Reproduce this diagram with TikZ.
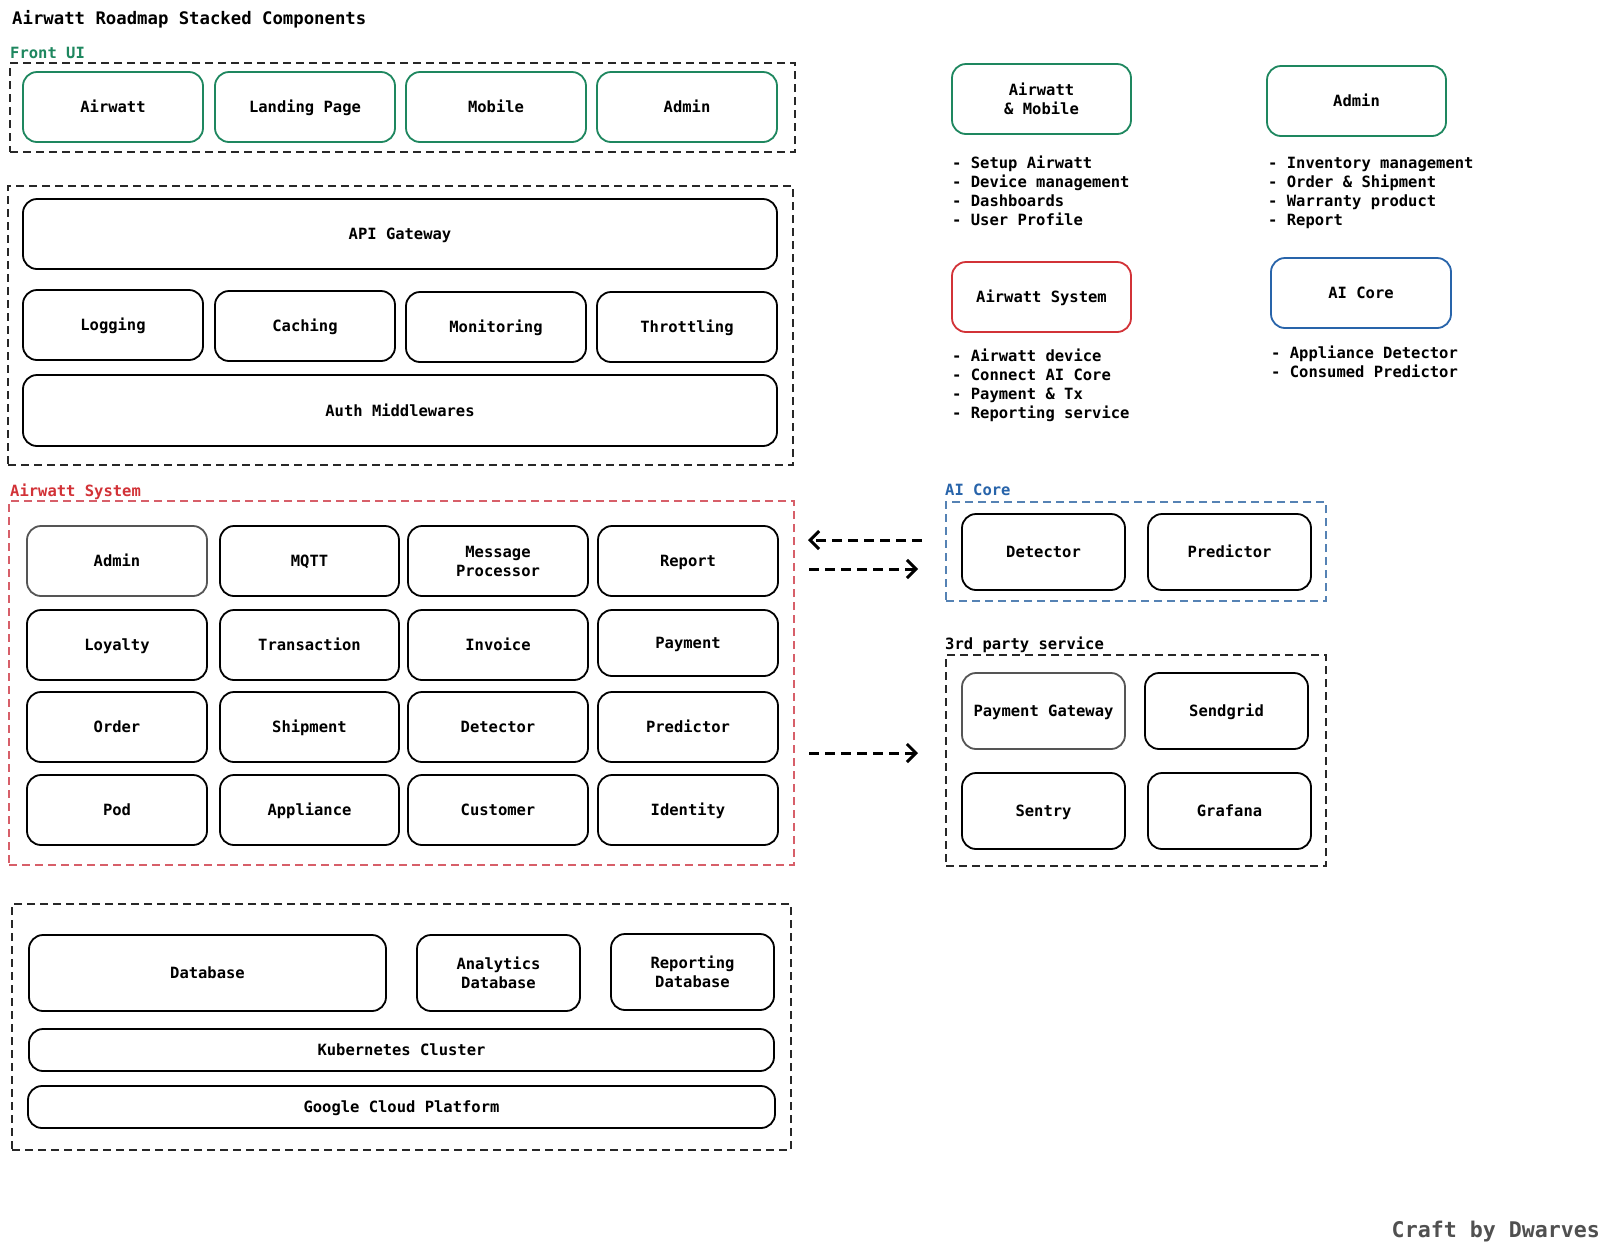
\documentclass[tikz,border=0pt]{standalone}
\usepackage{fontspec}
\setmainfont{DejaVu Sans Mono}[UprightFont=* Bold]
\usetikzlibrary{arrows.meta}
\definecolor{greenS}{RGB}{30,135,95}
\definecolor{redS}{RGB}{210,50,55}
\definecolor{redD}{RGB}{215,95,105}
\definecolor{blueS}{RGB}{40,100,170}
\definecolor{blueD}{RGB}{85,130,180}
\definecolor{greyS}{RGB}{85,85,85}
\definecolor{frameK}{RGB}{40,40,40}
\definecolor{craftC}{RGB}{80,80,80}
\newcommand\rbox[7][]{%
  \pgfmathsetmacro\cx{(#3+#5)/2}\pgfmathsetmacro\cy{(#4+#6)/2}%
  \pgfmathsetmacro\ww{#5-#3}\pgfmathsetmacro\hh{#6-#4}%
  \node[rbx,#1,minimum width=\ww pt,minimum height=\hh pt] (#2) at (\cx,\cy) {#7};}
\tikzset{
  txt/.style={font=\fontsize{15.5}{19}\selectfont, inner sep=0pt},
  rbx/.style={draw=black, line width=1.8pt, rounded corners=14pt, txt, align=center, text height=11.3pt, text depth=0pt},
  ml/.style={text height=, text depth=},
  gbx/.style={draw=greenS},
  rdbx/.style={draw=redS},
  blbx/.style={draw=blueS},
  grbx/.style={draw=greyS},
  frame/.style={draw=frameK, line width=1.4pt, dash pattern=on 8pt off 5pt, rounded corners=0pt},
  lbl/.style={txt, anchor=west, text height=11.3pt, text depth=0pt},
  flow/.style={line width=3pt, dash pattern=on 10pt off 6pt, -{Straight Barb[length=9pt,width=18pt,line width=3pt]}},
}
\begin{document}
\begin{tikzpicture}[x=1pt,y=-1pt]
\useasboundingbox[fill=white] (0,0) rectangle (1609,1251);
% title
\node[lbl, font=\fontsize{17.3}{20}\selectfont, text height=12.5pt] (title) at (12,18) {Airwatt Roadmap Stacked Components};
% Front UI
\node[lbl, text=greenS] (fuiL) at (10,53) {Front UI};
\rbox[frame]{fuiF}{10}{63}{795}{152}{}
\rbox[gbx]{fAirwatt}{23}{72}{203}{142}{Airwatt}
\rbox[gbx]{fLanding}{215}{72}{395}{142}{Landing Page}
\rbox[gbx]{fMobile}{406}{72}{586}{142}{Mobile}
\rbox[gbx]{fAdmin}{597}{72}{777}{142}{Admin}
% Gateway group
\rbox[frame]{gwF}{8}{186}{793}{465}{}
\rbox{api}{23}{199}{777}{269}{API Gateway}
\rbox{logging}{23}{290}{203}{360}{Logging}
\rbox{caching}{215}{291}{395}{361}{Caching}
\rbox{monitoring}{406}{292}{586}{362}{Monitoring}
\rbox{throttling}{597}{292}{777}{362}{Throttling}
\rbox{auth}{23}{375}{777}{446}{Auth Middlewares}
% Airwatt System
\node[lbl, text=redS] (asL) at (10,491) {Airwatt System};
\rbox[frame,draw=redD]{asF}{9}{501}{794}{865}{}
\rbox[grbx]{sAdmin}{27}{526}{207}{596}{Admin}
\rbox{sMqtt}{220}{526}{399}{596}{MQTT}
\rbox[ml]{sMsg}{408}{526}{588}{596}{Message\\Processor}
\rbox{sReport}{598}{526}{778}{596}{Report}
\rbox{sLoyalty}{27}{610}{207}{680}{Loyalty}
\rbox{sTx}{220}{610}{399}{680}{Transaction}
\rbox{sInvoice}{408}{610}{588}{680}{Invoice}
\rbox{sPayment}{598}{610}{778}{676}{Payment}
\rbox{sOrder}{27}{692}{207}{762}{Order}
\rbox{sShip}{220}{692}{399}{762}{Shipment}
\rbox{sDetector}{408}{692}{588}{762}{Detector}
\rbox{sPredictor}{598}{692}{778}{762}{Predictor}
\rbox{sPod}{27}{775}{207}{845}{Pod}
\rbox{sAppliance}{220}{775}{399}{845}{Appliance}
\rbox{sCustomer}{408}{775}{588}{845}{Customer}
\rbox{sIdentity}{598}{775}{778}{845}{Identity}
% AI Core group
\node[lbl, text=blueS] (acL) at (945,490) {AI Core};
\rbox[frame,draw=blueD]{acF}{946}{502}{1326}{601}{}
\rbox{aDetector}{962}{514}{1125}{590}{Detector}
\rbox{aPredictor}{1148}{514}{1311}{590}{Predictor}
% 3rd party
\node[lbl] (tpL) at (945,644) {3rd party service};
\rbox[frame]{tpF}{946}{655}{1326}{866}{}
\rbox[grbx]{tPay}{962}{673}{1125}{749}{Payment Gateway}
\rbox{tSend}{1145}{673}{1308}{749}{Sendgrid}
\rbox{tSentry}{962}{773}{1125}{849}{Sentry}
\rbox{tGrafana}{1148}{773}{1311}{849}{Grafana}
% arrows
\coordinate (a1s) at (922,540); \coordinate (a1e) at (808,540);
\coordinate (a2s) at (809,569); \coordinate (a2e) at (918,569);
\coordinate (a3s) at (809,753); \coordinate (a3e) at (918,753);
\draw[flow] (a1s) -- (a1e);
\draw[flow] (a2s) -- (a2e);
\draw[flow] (a3s) -- (a3e);
% Infra group
\rbox[frame]{inF}{12}{904}{791}{1150}{}
\rbox{dDb}{29}{935}{386}{1011}{Database}
\rbox[ml]{dAn}{417}{935}{580}{1011}{Analytics\\Database}
\rbox[ml]{dRep}{611}{934}{774}{1010}{Reporting\\Database}
\rbox{dK8s}{29}{1029}{774}{1071}{Kubernetes Cluster}
\rbox{dGcp}{28}{1086}{775}{1128}{Google Cloud Platform}
% legend
\rbox[gbx,ml]{lAM}{952}{64}{1131}{134}{Airwatt\\\& Mobile}
\rbox[gbx]{lAdmin}{1267}{66}{1446}{136}{Admin}
\rbox[rdbx]{lSys}{952}{262}{1131}{332}{Airwatt System}
\rbox[blbx]{lAI}{1271}{258}{1451}{328}{AI Core}
\node[lbl] (l1a) at (952,163) {- Setup Airwatt};
\node[lbl] (l1b) at (952,182) {- Device management};
\node[lbl] (l1c) at (952,201) {- Dashboards};
\node[lbl] (l1d) at (952,220) {- User Profile};
\node[lbl] (l2a) at (1268,163) {- Inventory management};
\node[lbl] (l2b) at (1268,182) {- Order \& Shipment};
\node[lbl] (l2c) at (1268,201) {- Warranty product};
\node[lbl] (l2d) at (1268,220) {- Report};
\node[lbl] (l3a) at (952,356) {- Airwatt device};
\node[lbl] (l3b) at (952,375) {- Connect AI Core};
\node[lbl] (l3c) at (952,394) {- Payment \& Tx};
\node[lbl] (l3d) at (952,413) {- Reporting service};
\node[lbl] (l4a) at (1271,353) {- Appliance Detector};
\node[lbl] (l4b) at (1271,372) {- Consumed Predictor};
% footer
\node[txt, anchor=east, text=craftC, font=\fontsize{21.6}{24}\selectfont, text height=15.5pt, text depth=0pt] (craft) at (1600,1230) {Craft by Dwarves};
\end{tikzpicture}
\end{document}
